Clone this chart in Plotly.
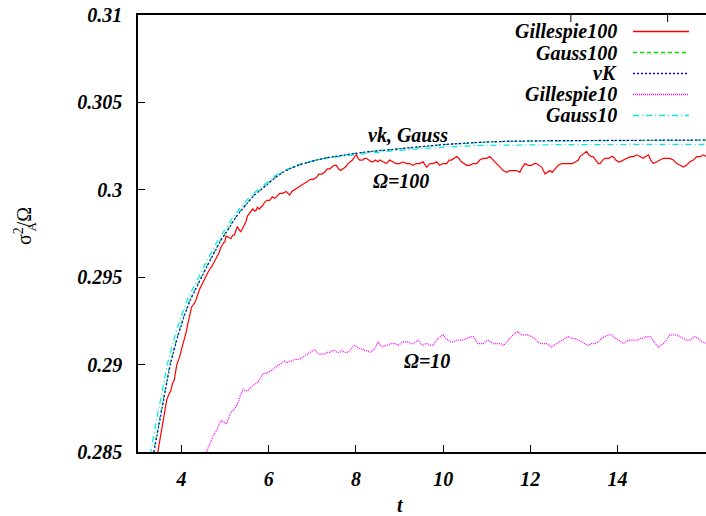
import plotly.graph_objects as go

# ---------------- data ----------------
# Van Kampen (linear noise) prediction
t_vk = [3.30, 3.37, 3.50, 3.62, 3.74, 3.90, 4.05, 4.20, 4.33, 4.46, 4.60, 4.75, 4.90,
        5.06, 5.21, 5.36, 5.52, 5.67, 5.82, 5.96, 6.15, 6.33, 6.50, 6.70, 6.90, 7.09,
        7.30, 7.50, 7.86, 8.20, 8.62, 9.00, 9.39, 10.0, 10.84, 11.5, 12.5, 13.5, 14.5,
        15.3, 16.03]
var_vk = [0.2841, 0.2851, 0.2868, 0.2884, 0.2900, 0.2915, 0.2927, 0.2937, 0.2944, 0.2950,
          0.2957, 0.29636, 0.2971, 0.2977, 0.2983, 0.2988, 0.2993, 0.2997, 0.3000, 0.3003,
          0.3007, 0.3010, 0.30122, 0.30142, 0.30158, 0.30170, 0.30182, 0.30191, 0.30204,
          0.30216, 0.30227, 0.30237, 0.30246, 0.30259, 0.30272, 0.30278, 0.30281, 0.30283,
          0.30284, 0.30284, 0.30285]

# Gaussian approximation, Omega = 100
t_g100 = [3.29, 3.36, 3.49, 3.61, 3.73, 3.89, 4.04, 4.19, 4.32, 4.45, 4.59, 4.74, 4.89,
          5.05, 5.20, 5.35, 5.51, 5.66, 5.81, 5.95, 6.14, 6.32, 6.49, 6.69, 6.89, 7.08,
          7.29, 7.49, 7.85, 8.19, 8.61, 8.99, 9.38, 9.99, 10.83, 11.5, 12.5, 13.5, 14.5,
          15.3, 16.03]
var_g100 = [0.2841, 0.2851, 0.2868, 0.2884, 0.2900, 0.2915, 0.2927, 0.2937, 0.2944, 0.2950,
            0.2957, 0.29636, 0.2971, 0.2977, 0.2983, 0.2988, 0.2993, 0.2997, 0.3000, 0.3003,
            0.3007, 0.3010, 0.30122, 0.30142, 0.30158, 0.30170, 0.30182, 0.30191, 0.30203,
            0.30215, 0.30226, 0.30236, 0.30245, 0.30258, 0.30271, 0.30277, 0.30280, 0.30282,
            0.30283, 0.30283, 0.30284]

# Gaussian approximation, Omega = 10
t_g10 = [3.23, 3.30, 3.42, 3.55, 3.67, 3.83, 3.98, 4.13, 4.26, 4.39, 4.53, 4.68, 4.83,
         4.99, 5.14, 5.29, 5.45, 5.60, 5.75, 5.90, 6.09, 6.27, 6.45, 6.65, 6.85, 7.05,
         7.26, 7.47, 7.86, 8.20, 8.62, 9.00, 9.39, 10.0, 10.84, 11.5, 12.5, 13.5, 14.5,
         15.3, 16.03]
var_g10 = [0.2841, 0.2851, 0.2868, 0.2884, 0.2900, 0.2915, 0.2927, 0.2937, 0.2944, 0.2950,
           0.2957, 0.29636, 0.2971, 0.2977, 0.2983, 0.2988, 0.2993, 0.2997, 0.3000, 0.3003,
           0.3007, 0.3010, 0.30122, 0.30142, 0.30157, 0.30168, 0.30178, 0.30186, 0.30198,
           0.30207, 0.30218, 0.30226, 0.30234, 0.30244, 0.30254, 0.30257, 0.30258, 0.30259,
           0.30259, 0.30260, 0.30260]

# Stochastic simulation (Gillespie), Omega = 100
t_gil100 = [3.40, 3.46, 3.51, 3.56, 3.61, 3.66, 3.71, 3.75, 3.79, 3.83, 3.89, 3.95, 4.00,
            4.06, 4.10, 4.14, 4.19, 4.23, 4.29, 4.33, 4.41, 4.47, 4.52, 4.58, 4.63, 4.69,
            4.75, 4.80, 4.86, 4.90, 4.94, 4.97, 4.99, 5.02, 5.07, 5.13, 5.17, 5.21, 5.25,
            5.28, 5.32, 5.36, 5.40, 5.44, 5.48, 5.51, 5.57, 5.63, 5.67, 5.70, 5.74, 5.78,
            5.82, 5.86, 5.91, 5.96, 6.02, 6.08, 6.14, 6.20, 6.25, 6.32, 6.40, 6.44, 6.48,
            6.53, 6.59, 6.65, 6.71, 6.78, 6.84, 6.90, 6.96, 7.02, 7.09, 7.15, 7.22, 7.28,
            7.34, 7.40, 7.44, 7.50, 7.55, 7.60, 7.65, 7.70, 7.76, 7.82, 7.86, 7.92, 7.97,
            8.01, 8.05, 8.09, 8.15, 8.20, 8.24, 8.30, 8.35, 8.39, 8.45, 8.50, 8.55, 8.62,
            8.70, 8.77, 8.85, 8.92, 9.00, 9.08, 9.16, 9.23, 9.31, 9.38, 9.46, 9.54, 9.62,
            9.70, 9.77, 9.85, 9.92, 10.00, 10.08, 10.14, 10.19, 10.25, 10.31, 10.36, 10.42,
            10.48, 10.54, 10.61, 10.69, 10.77, 10.84, 10.92, 11.00, 11.07, 11.15, 11.22,
            11.30, 11.38, 11.45, 11.53, 11.61, 11.68, 11.76, 11.82, 11.88, 11.95, 12.03,
            12.09, 12.14, 12.20, 12.26, 12.30, 12.34, 12.39, 12.45, 12.50, 12.56, 12.64,
            12.72, 12.80, 12.88, 12.96, 13.04, 13.10, 13.14, 13.20, 13.25, 13.29, 13.34,
            13.40, 13.44, 13.50, 13.56, 13.60, 13.66, 13.72, 13.80, 13.86, 13.90, 13.96,
            14.02, 14.06, 14.12, 14.21, 14.30, 14.37, 14.44, 14.51, 14.59, 14.65, 14.71,
            14.76, 14.82, 14.90, 14.97, 15.05, 15.13, 15.20, 15.28, 15.36, 15.44, 15.51,
            15.58, 15.66, 15.74, 15.82, 15.90, 15.97, 16.03]
var_gil100 = [0.2842, 0.2851, 0.2858, 0.2866, 0.2873, 0.2880, 0.2883, 0.2885, 0.2889, 0.2891,
              0.2900, 0.2904, 0.2909, 0.2914, 0.2918, 0.2923, 0.2928, 0.2933, 0.2935, 0.2937,
              0.2943, 0.2946, 0.2948, 0.2951, 0.2954, 0.2956, 0.2959, 0.2961, 0.2964, 0.2967,
              0.2969, 0.2970, 0.2970, 0.29735, 0.2973, 0.2972, 0.2974, 0.2974, 0.2977, 0.2979,
              0.2977, 0.2976, 0.2978, 0.2980, 0.2982, 0.2985, 0.2987, 0.2989, 0.2988, 0.2988,
              0.2990, 0.2989, 0.2990, 0.2991, 0.2993, 0.2994, 0.2994, 0.2996, 0.2995, 0.2997,
              0.2998, 0.2998, 0.2999, 0.2998, 0.2997, 0.2999, 0.3000, 0.3001, 0.3002, 0.3003,
              0.3004, 0.3005, 0.3006, 0.3006, 0.3007, 0.3009, 0.3009, 0.3010, 0.3012, 0.3012,
              0.3013, 0.3014, 0.3014, 0.3012, 0.3011, 0.3012, 0.3013, 0.3015, 0.3016, 0.3017,
              0.3019, 0.3020, 0.3018, 0.3017, 0.3017, 0.3018, 0.3018, 0.3017, 0.3016, 0.3016,
              0.3017, 0.3016, 0.3017, 0.3016, 0.3015, 0.3017, 0.3016, 0.3015, 0.3015, 0.3016,
              0.3015, 0.3015, 0.3014, 0.3015, 0.3015, 0.3016, 0.3013, 0.3015, 0.3015, 0.3016,
              0.3014, 0.3015, 0.3015, 0.3017, 0.3017, 0.3018, 0.3019, 0.3018, 0.3016, 0.3015,
              0.3014, 0.3014, 0.3015, 0.3015, 0.3017, 0.3018, 0.3018, 0.3019, 0.3017, 0.3015,
              0.3013, 0.3011, 0.3010, 0.3011, 0.3011, 0.3011, 0.3010, 0.3013, 0.3015, 0.3014,
              0.3014, 0.3015, 0.3015, 0.3014, 0.3013, 0.3011, 0.3009, 0.3010, 0.3011, 0.3010,
              0.3012, 0.3014, 0.3015, 0.3015, 0.3015, 0.3015, 0.3016, 0.3017, 0.3019, 0.3020,
              0.3021, 0.3022, 0.3020, 0.3019, 0.3019, 0.3017, 0.3015, 0.3015, 0.3017, 0.3018,
              0.3018, 0.3019, 0.3019, 0.3017, 0.3016, 0.3016, 0.3017, 0.3018, 0.3019, 0.3019,
              0.3020, 0.3019, 0.3018, 0.3019, 0.3020, 0.3017, 0.3015, 0.3016, 0.3017, 0.3018,
              0.3018, 0.3018, 0.3017, 0.3015, 0.3014, 0.3013, 0.3014, 0.3016, 0.3017, 0.3019,
              0.3019, 0.3020, 0.3019]

# Stochastic simulation (Gillespie), Omega = 10
t_gil10 = [4.50, 4.57, 4.62, 4.68, 4.74, 4.80, 4.86, 4.91, 4.97, 5.03, 5.09, 5.14, 5.20,
           5.25, 5.29, 5.33, 5.37, 5.41, 5.47, 5.52, 5.58, 5.64, 5.70, 5.75, 5.81, 5.87,
           5.94, 6.02, 6.08, 6.13, 6.19, 6.25, 6.31, 6.36, 6.42, 6.48, 6.53, 6.59, 6.65,
           6.71, 6.76, 6.82, 6.88, 6.94, 7.00, 7.05, 7.11, 7.17, 7.22, 7.28, 7.34, 7.40,
           7.45, 7.51, 7.57, 7.63, 7.68, 7.74, 7.80, 7.86, 7.92, 7.97, 8.03, 8.09, 8.15,
           8.20, 8.26, 8.32, 8.38, 8.43, 8.47, 8.51, 8.56, 8.62, 8.68, 8.74, 8.80, 8.85,
           8.91, 8.97, 9.02, 9.08, 9.14, 9.20, 9.26, 9.31, 9.37, 9.43, 9.48, 9.54, 9.60,
           9.65, 9.71, 9.77, 9.82, 9.88, 9.94, 10.00, 10.06, 10.11, 10.17, 10.23, 10.31,
           10.38, 10.46, 10.52, 10.57, 10.63, 10.69, 10.75, 10.80, 10.86, 10.92, 10.97,
           11.03, 11.09, 11.15, 11.20, 11.26, 11.32, 11.38, 11.43, 11.49, 11.57, 11.65,
           11.72, 11.78, 11.85, 11.95, 12.02, 12.10, 12.17, 12.25, 12.31, 12.37, 12.43,
           12.49, 12.54, 12.60, 12.67, 12.75, 12.81, 12.87, 12.94, 13.02, 13.10, 13.18,
           13.25, 13.33, 13.40, 13.48, 13.56, 13.64, 13.71, 13.79, 13.85, 13.90, 13.96,
           14.02, 14.08, 14.13, 14.19, 14.25, 14.32, 14.40, 14.46, 14.52, 14.58, 14.63,
           14.69, 14.75, 14.81, 14.86, 14.90, 14.94, 15.00, 15.05, 15.12, 15.20, 15.28,
           15.36, 15.43, 15.51, 15.58, 15.66, 15.72, 15.78, 15.84, 15.89, 15.95, 16.03]
var_gil10 = [0.2847, 0.2850, 0.2853, 0.2857, 0.2860, 0.2862, 0.2866, 0.2868, 0.2867, 0.2866,
             0.2870, 0.2873, 0.2874, 0.2876, 0.2878, 0.2881, 0.2884, 0.2886, 0.2885, 0.2885,
             0.2887, 0.2888, 0.2889, 0.2890, 0.2892, 0.2895, 0.2895, 0.2896, 0.2897, 0.2898,
             0.2899, 0.2900, 0.2901, 0.2902, 0.2901, 0.2902, 0.2902, 0.2903, 0.2903, 0.2903,
             0.2904, 0.2905, 0.2906, 0.2907, 0.2908, 0.29086, 0.2907, 0.2906, 0.2906, 0.2906,
             0.2907, 0.2907, 0.2908, 0.2908, 0.2907, 0.2907, 0.2908, 0.2907, 0.2907, 0.2908,
             0.2910, 0.2911, 0.2910, 0.2909, 0.2909, 0.2908, 0.2908, 0.2907, 0.2908, 0.2909,
             0.2911, 0.2913, 0.2911, 0.2910, 0.2911, 0.2911, 0.2912, 0.2912, 0.2912, 0.2911,
             0.2912, 0.2913, 0.2913, 0.2913, 0.2912, 0.2912, 0.2913, 0.2914, 0.2912, 0.2911,
             0.2912, 0.2912, 0.2911, 0.2911, 0.2913, 0.2915, 0.2916, 0.2917, 0.2915, 0.2914,
             0.2913, 0.2913, 0.2914, 0.2914, 0.2914, 0.2915, 0.2915, 0.2916, 0.2916, 0.2914,
             0.2912, 0.2912, 0.2912, 0.2913, 0.2914, 0.2913, 0.2912, 0.2912, 0.2912, 0.2912,
             0.2911, 0.2912, 0.2914, 0.2916, 0.2918, 0.2919, 0.2917, 0.2917, 0.2917, 0.2916,
             0.2915, 0.2913, 0.2912, 0.2912, 0.2912, 0.2911, 0.2910, 0.2911, 0.2912, 0.2913,
             0.2914, 0.2915, 0.2916, 0.2915, 0.2915, 0.2914, 0.2913, 0.2912, 0.2911, 0.2912,
             0.2912, 0.2913, 0.2915, 0.2916, 0.2917, 0.2917, 0.2916, 0.2915, 0.2914, 0.2913,
             0.2912, 0.2913, 0.2914, 0.2914, 0.2914, 0.2914, 0.2915, 0.2915, 0.2916, 0.2916,
             0.2916, 0.2914, 0.2912, 0.2911, 0.2910, 0.2911, 0.2912, 0.2914, 0.2917, 0.2917,
             0.2917, 0.2916, 0.2915, 0.2914, 0.2914, 0.2915, 0.2916, 0.2915, 0.2914, 0.2913,
             0.2912]

x_ticks = [4, 6, 8, 10, 12, 14]
x_tick_text = ["4", "6", "8", "10", "12", "14"]
y_ticks = [0.285, 0.29, 0.295, 0.3, 0.305, 0.31]
y_tick_text = ["0.285", "0.29", "0.295", "0.3", "0.305", "0.31"]
# tick marks along the top frame
top_ticks = [12.93, 15.15]

series_names = ["Gillespie100", "Gauss100", "vK", "Gillespie10", "Gauss10"]
series_colors = ["#ff0000", "#00dd00", "#0000ff", "#ff00ff", "#00e8e8"]
series_dash = ["solid", "4px,3px", "2px,2px", "1px,1px", "6px,3px,1px,3px"]

# ---------------- figure ----------------
SERIF = "Liberation Serif"
W, H = 706, 516
ML, MR, MT, MB = 138, 0, 15, 64
X_RANGE = [3, 16.03]
Y_RANGE = [0.285, 0.31]

fig = go.Figure()
curves = [(t_gil100, var_gil100), (t_g100, var_g100), (t_vk, var_vk),
          (t_gil10, var_gil10), (t_g10, var_g10)]
draw_order = [3, 0, 4, 1, 2]
for i in draw_order:
    tx, vy = curves[i]
    fig.add_trace(go.Scatter(
        x=tx, y=vy, mode="lines", name=series_names[i], showlegend=False,
        line=dict(color=series_colors[i], width=1.2, dash=series_dash[i]),
    ))

plot_w = W - ML - MR
plot_h = H - MT - MB


def px_x(p):
    return (p - ML) / plot_w


def px_y(p):
    return (H - MB - p) / plot_h


def px_to_data_x(p):
    return X_RANGE[0] + px_x(p) * (X_RANGE[1] - X_RANGE[0])


def px_to_data_y(p):
    return Y_RANGE[0] + px_y(p) * (Y_RANGE[1] - Y_RANGE[0])


# key: right aligned name followed by a short line sample
key_rows = [31.5, 52.5, 73.5, 94.5, 115.5]
for name, col, dash, py in zip(series_names, series_colors, series_dash, key_rows):
    fig.add_trace(go.Scatter(
        x=[px_to_data_x(633), px_to_data_x(689)],
        y=[px_to_data_y(py), px_to_data_y(py)], mode="lines",
        showlegend=False, hoverinfo="skip",
        line=dict(color=col, width=1.5, dash=dash),
    ))

bold_it = dict(family=SERIF, size=20, color="black", weight="bold", style="italic")

fig.update_xaxes(
    range=X_RANGE, tickvals=x_ticks, ticktext=x_tick_text, ticks="inside", ticklen=7,
    tickwidth=1, tickcolor="black", showline=True, linecolor="black", linewidth=1.5,
    mirror=True, showgrid=False, zeroline=False, tickfont=bold_it, ticklabelstandoff=8,
)
fig.update_yaxes(
    range=Y_RANGE, tickvals=y_ticks, ticktext=y_tick_text, ticks="inside", ticklen=7,
    tickwidth=1, tickcolor="black", showline=True, linecolor="black", linewidth=1.5,
    showgrid=False, zeroline=False, tickfont=bold_it, ticklabelstandoff=10,
)

for tv in top_ticks:
    fig.add_shape(type="line", xref="x", yref="paper", x0=tv, x1=tv,
                  y0=1, y1=1 - 7 / plot_h, line=dict(color="black", width=1))

annotations = []
for name, py in zip(series_names, key_rows):
    annotations.append(dict(
        xref="paper", yref="paper", x=px_x(619), y=px_y(py), xanchor="right",
        yanchor="middle", text=name, showarrow=False, font=bold_it,
    ))

annotations += [
    dict(x=9.19, y=0.30313, text="vk, Gauss", showarrow=False, font=bold_it),
    dict(x=9.03, y=0.30050, text="Ω=100", showarrow=False, font=bold_it),
    dict(x=9.64, y=0.29018, text="Ω=10", showarrow=False, font=bold_it),
    dict(xref="paper", yref="paper", x=px_x(400), y=px_y(505), text="t",
         showarrow=False, font=bold_it, xanchor="center", yanchor="middle"),
    # rotated y title: sigma with the exponent 2 stacked over the index A
    dict(xref="paper", yref="paper", x=px_x(23), y=px_y(226),
         text="σ<sup>2</sup>/Ω", textangle=-90, showarrow=False,
         font=dict(family=SERIF, size=20, color="black"),
         xanchor="center", yanchor="middle"),
    dict(xref="paper", yref="paper", x=px_x(31), y=px_y(226.5),
         text="A", textangle=-90, showarrow=False,
         font=dict(family=SERIF, size=13, color="black"),
         xanchor="center", yanchor="middle"),
]

fig.update_layout(
    width=W, height=H, margin=dict(l=ML, r=MR, t=MT, b=MB),
    plot_bgcolor="white", paper_bgcolor="white", annotations=annotations,
    showlegend=False,
)

fig.write_html("out.html")
